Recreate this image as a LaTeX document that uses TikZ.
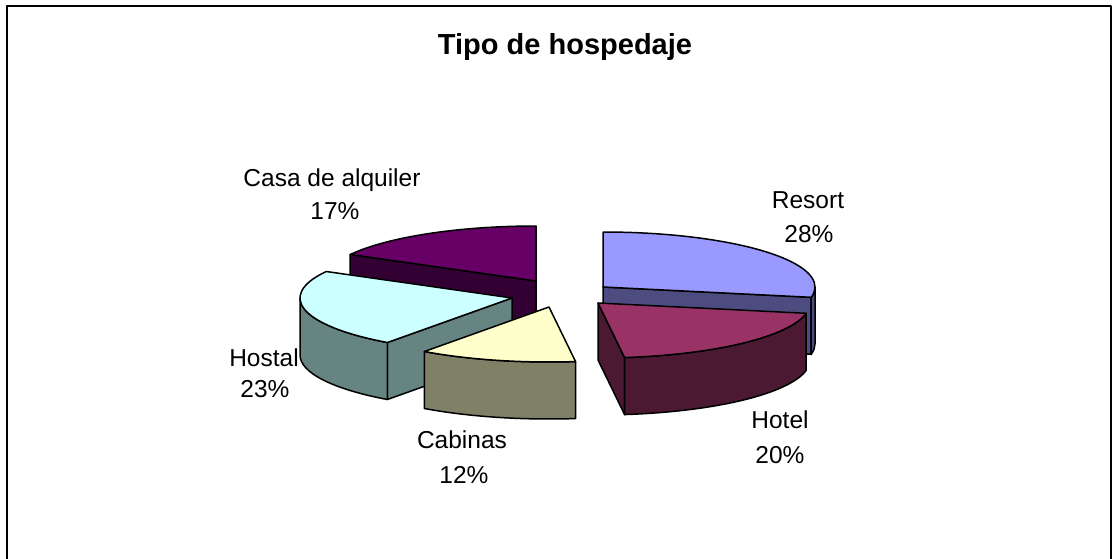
\documentclass[tikz,border=0pt]{standalone}
\usepackage{fontspec}
\setmainfont{Liberation Sans}
\newlength{\du}
\setlength{\du}{1pt}

\begin{document}
\begin{tikzpicture}[x=1\du,y=-1\du,line join=round,
  face/.style={draw=black,line width=1.5\du},
  lbl/.style={anchor=base,inner sep=0pt,outer sep=0pt,font=\fontsize{24.5}{29}\selectfont}]
\useasboundingbox (0,0) rectangle (1112,559);
\definecolor{casatop}{rgb}{0.400000, 0.000000, 0.400000}
\definecolor{casaside}{rgb}{0.200000, 0.000000, 0.200000}
\definecolor{resorttop}{rgb}{0.600000, 0.600000, 1.000000}
\definecolor{resortside}{rgb}{0.300000, 0.300000, 0.500000}
\definecolor{hostaltop}{rgb}{0.800000, 1.000000, 1.000000}
\definecolor{hostalside}{rgb}{0.400000, 0.520000, 0.510000}
\definecolor{hoteltop}{rgb}{0.600000, 0.200000, 0.400000}
\definecolor{hotelside}{rgb}{0.300000, 0.100000, 0.200000}
\definecolor{cabinastop}{rgb}{1.000000, 1.000000, 0.800000}
\definecolor{cabinasside}{rgb}{0.500000, 0.500000, 0.400000}
% frame
\draw[line width=1.5\du] (7,559) -- (7,6) -- (1111,6) -- (1111,559);
% setfont left to latex
\node[anchor=base,inner sep=0pt,outer sep=0pt,font=\bfseries\fontsize{29}{35}\selectfont] (title) at (565,55) {Tipo de hospedaje};
% Casa de alquiler
\coordinate (casaC) at (536,281);
\path[face,fill=casaside] (casaC) -- ++(208.8:212 and 55) -- ++(0,57) -- ++(28.8:212 and 55) -- cycle;
\path[face,fill=casatop] (casaC) -- ++(208.8:212 and 55) arc[start angle=208.8,end angle=270,x radius=212,y radius=55] -- cycle;
% Resort
\coordinate (resortC) at (603,287);
\path[face,fill=resortside] (resortC) -- ++(10.8:212 and 55) -- ++(0,57) -- ++(190.8:212 and 55) -- cycle;
\path[face,fill=resortside] (resortC) ++(0:212 and 55) arc[start angle=0,end angle=10.8,x radius=212,y radius=55] -- ++(0,57) arc[start angle=10.8,end angle=0,x radius=212,y radius=55] -- cycle;
\path[face,fill=resorttop] (resortC) -- ++(-90:212 and 55) arc[start angle=-90,end angle=10.8,x radius=212,y radius=55] -- cycle;
% Hostal
\coordinate (hostalC) at (512,298);
\path[face,fill=hostalside] (hostalC) -- ++(126:212 and 55) -- ++(0,57) -- ++(-54:212 and 55) -- cycle;
\path[face,fill=hostalside] (hostalC) ++(126:212 and 55) arc[start angle=126,end angle=180,x radius=212,y radius=55] -- ++(0,57) arc[start angle=180,end angle=126,x radius=212,y radius=55] -- cycle;
\path[face,fill=hostaltop] (hostalC) -- ++(126:212 and 55) arc[start angle=126,end angle=208.8,x radius=212,y radius=55] -- cycle;
% Hotel
\coordinate (hotelC) at (598,303);
\path[face,fill=hotelside] (hotelC) -- ++(82.8:212 and 55) -- ++(0,57) -- ++(262.8:212 and 55) -- cycle;
\path[face,fill=hotelside] (hotelC) ++(10.8:212 and 55) arc[start angle=10.8,end angle=82.8,x radius=212,y radius=55] -- ++(0,57) arc[start angle=82.8,end angle=10.8,x radius=212,y radius=55] -- cycle;
\path[face,fill=hoteltop] (hotelC) -- ++(10.8:212 and 55) arc[start angle=10.8,end angle=82.8,x radius=212,y radius=55] -- cycle;
% Cabinas
\coordinate (cabinasC) at (549,307);
\path[face,fill=cabinasside] (cabinasC) ++(82.8:212 and 55) arc[start angle=82.8,end angle=126,x radius=212,y radius=55] -- ++(0,57) arc[start angle=126,end angle=82.8,x radius=212,y radius=55] -- cycle;
\path[face,fill=cabinastop] (cabinasC) -- ++(82.8:212 and 55) arc[start angle=82.8,end angle=126,x radius=212,y radius=55] -- cycle;
% labels
\node[lbl] (casa) at (332,187) {Casa de alquiler};
\node[lbl] (casap) at (335,219) {17\%};
\node[lbl] (resort) at (808,208) {Resort};
\node[lbl] (resortp) at (809,243) {28\%};
\node[lbl] (hostal) at (264,366) {Hostal};
\node[lbl] (hostalp) at (265,397) {23\%};
\node[lbl] (cabinas) at (462,448) {Cabinas};
\node[lbl] (cabinasp) at (464,483) {12\%};
\node[lbl] (hotel) at (780,428) {Hotel};
\node[lbl] (hotelp) at (780,463) {20\%};
\end{tikzpicture}
\end{document}
